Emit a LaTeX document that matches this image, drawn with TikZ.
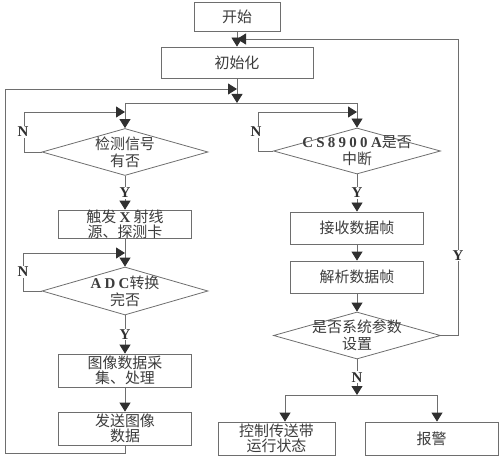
\documentclass[tikz,border=0pt]{standalone}
\usepackage{fontspec}
\setmainfont{Liberation Serif}
\newfontfamily\cjk{Noto Sans CJK SC}
\newfontfamily\latsp[LetterSpace=22]{Liberation Serif}
\usetikzlibrary{positioning, shapes.geometric, arrows.meta}
\definecolor{linegray}{HTML}{6E6E6E}
\definecolor{tipgray}{HTML}{303030}
\definecolor{txtgray}{HTML}{3C3C3C}
\newcommand{\lb}[1]{{\latsp\bfseries #1}}

\begin{document}
\begin{tikzpicture}[
    % GLOBAL SETTINGS
    x=1bp, y=-1bp,
    % STYLES
    box/.style={rectangle, draw=linegray, fill=white, line width=0.8bp, inner sep=0pt,
        align=center, text=txtgray, font=\cjk\fontsize{15}{15}\selectfont},
    dia/.style={diamond, draw=linegray, line width=0.8bp, inner sep=0pt},
    dtext/.style={align=center, inner sep=0pt, text=txtgray, font=\cjk\fontsize{15}{17}\selectfont},
    line/.style={draw=linegray, line width=0.8bp},
    flow/.style={line, -{Triangle[length=9bp, width=11bp, color=tipgray]}},
    yn/.style={fill=white, inner sep=1pt, text=tipgray, font=\rmfamily\bfseries\fontsize{15}{15}\selectfont}
]

    \useasboundingbox (0,0) rectangle (500,459);

    % boxes
    \node[box, minimum width=86bp,  minimum height=29bp] (start) at (237,16.5)  {开始};
    \node[box, minimum width=152bp, minimum height=31bp] (init)  at (237,62.5)  {初始化};
    \node[box, minimum width=133bp, minimum height=25bp] (trig)  at (125,224.5) {触发 \lb{X} 射线\\源、探测卡};
    \node[box, minimum width=133bp, minimum height=33bp] (img)   at (125,370.5) {图像数据采\\集、处理};
    \node[box, minimum width=133bp, minimum height=33bp] (send)  at (125,428.5) {发送图像\\数据};
    \node[box, minimum width=133bp, minimum height=32bp] (recv)  at (357,228)   {接收数据帧};
    \node[box, minimum width=133bp, minimum height=32bp] (parse) at (357,277)   {解析数据帧};
    \node[box, minimum width=117bp, minimum height=33bp] (ctrl)  at (276.5,438.5) {控制传送带\\运行状态};
    \node[box, minimum width=133bp, minimum height=33bp] (alarm) at (431.5,438.5) {报警};

    % decisions
    \node[dia, minimum width=166bp, minimum height=47bp] (sig)  at (125,152)   {};
    \node[dia, minimum width=166bp, minimum height=48bp] (adc)  at (125,291)   {};
    \node[dia, minimum width=167bp, minimum height=46bp] (cs)   at (357,151)   {};
    \node[dia, minimum width=167bp, minimum height=47bp] (para) at (357,335.5) {};
    \node[dtext] (sigt)  at (sig)  {检测信号\\有否};
    \node[dtext] (adct)  at (adc)  {\lb{ADC}转换\\完否};
    \node[dtext] (cst)   at (cs)   {\lb{CS8900A}是否\\中断};
    \node[dtext] (parat) at (para) {是否系统参数\\设置};

    % junctions
    \coordinate (back)  at (237,39);
    \coordinate (loop)  at (237,89);
    \coordinate (fork)  at (237,103);
    \coordinate (forkL) at (125,103);
    \coordinate (forkR) at (357,103);
    \coordinate (outJ)  at (357,395);
    \coordinate (outL)  at (285,395);
    \coordinate (outR)  at (437,395);

    % main flow
    \draw[flow] (start) -- (init);
    \draw[flow] (init) -- (fork);
    \draw[line] (forkL) -- (forkR);
    \draw[flow] (forkL) -- (sig);
    \draw[flow] (forkR) -- (cs);

    % left branch
    \draw[flow] (sig.west) -- ++(-17,0) |- (125,112);
    \node[yn] (n1) at (23,132) {N};
    \draw[flow] (sig) -- node[yn] (y1) {Y} (trig);
    \draw[flow] (trig) -- (adc);
    \draw[flow] (adc.west) -- ++(-18,0) |- (125,253);
    \node[yn] (n2) at (23,272) {N};
    \draw[flow] (adc) -- node[yn] (y2) {Y} (img);
    \draw[flow] (img) -- (send);
    \draw[flow] (send.south) -- ++(0,8) -| (5,89) -- (loop);

    % right branch
    \draw[flow] (cs.west) -- ++(-15,0) |- (357,112);
    \node[yn] (n3) at (256,132) {N};
    \draw[flow] (cs) -- node[yn] (y3) {Y} (recv);
    \draw[flow] (recv) -- (parse);
    \draw[flow] (parse) -- (para);
    \draw[flow] (para.east) -- (458,335.5) -- node[yn, pos=0.27] (y4) {Y} (458,39) -- (back);
    \draw[flow] (para) -- node[yn] (n4) {N} (outJ);
    \draw[line] (outL) -- (outR);
    \draw[flow] (outL) -- (outL |- ctrl.north);
    \draw[flow] (outR) -- (outR |- alarm.north);

\end{tikzpicture}
\end{document}
